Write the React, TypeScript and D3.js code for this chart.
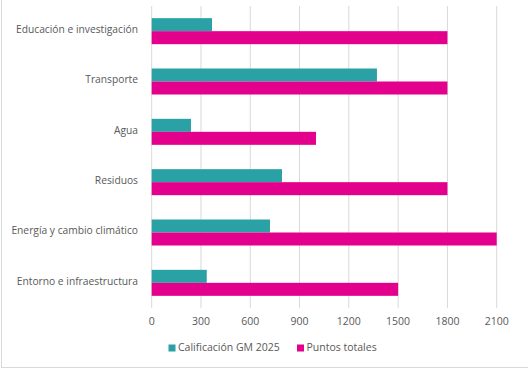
import React, { useEffect, useRef } from 'react';
import * as d3 from 'd3';

const categories = [
  'Educación e investigación',
  'Transporte',
  'Agua',
  'Residuos',
  'Energía y cambio climático',
  'Entorno e infraestructura',
];
const calificacion = [367, 1371, 239, 793, 720, 335];
const puntosTotales = [1800, 1800, 1000, 1800, 2100, 1500];
const xTicks = [0, 300, 600, 900, 1200, 1500, 1800, 2100];
const seriesNames = ['Calificación GM 2025', 'Puntos totales'];
const seriesColors = ['#2AA1A5', '#E3008C'];

const App: React.FC = () => {
  const ref = useRef<SVGSVGElement>(null);

  useEffect(() => {
    if (!ref.current) return;
    const width = 528, height = 370;
    const svg = d3.select(ref.current);
    svg.selectAll('*').remove();
    svg.attr('width', width).attr('height', height);

    const font = "'Open Sans', sans-serif";
    const textColor = '#595959';

    // chart frame (only left and bottom visible in crop)
    svg.append('rect')
      .attr('x', 1.5).attr('y', -10)
      .attr('width', 540).attr('height', 377.5)
      .attr('fill', '#fff').attr('stroke', '#d9d9d9');

    const x = d3.scaleLinear().domain([0, 2100]).range([151.7, 496.7]);
    const y = d3.scaleBand<string>().domain(categories).range([6, 308]);
    const barH = 13;

    svg.append('g')
      .selectAll('line')
      .data(xTicks)
      .join('line')
      .attr('x1', d => x(d)).attr('x2', d => x(d))
      .attr('y1', 6).attr('y2', 308)
      .attr('stroke', '#d9d9d9').attr('stroke-width', 1);

    const series = [calificacion, puntosTotales];
    series.forEach((vals, si) => {
      svg.append('g')
        .selectAll('rect')
        .data(categories)
        .join('rect')
        .attr('x', x(0))
        .attr('y', c => (y(c) as number) + y.step() / 2 - barH + si * barH)
        .attr('width', (c, i) => x(vals[i]) - x(0))
        .attr('height', barH)
        .attr('fill', seriesColors[si]);
    });

    svg.append('g')
      .selectAll('text')
      .data(categories)
      .join('text')
      .attr('x', 138)
      .attr('y', c => (y(c) as number) + y.step() / 2 - 1)
      .attr('text-anchor', 'end')
      .attr('dominant-baseline', 'middle')
      .attr('font-family', font)
      .attr('font-size', 10.25)
      .attr('fill', textColor)
      .text(c => c);

    svg.append('g')
      .selectAll('text')
      .data(xTicks)
      .join('text')
      .attr('x', d => x(d))
      .attr('y', 322)
      .attr('text-anchor', 'middle')
      .attr('dominant-baseline', 'middle')
      .attr('font-family', font)
      .attr('font-size', 10.5)
      .attr('fill', textColor)
      .text(d => String(d));

    const legendX = [168.5, 297];
    const legend = svg.append('g')
      .selectAll('g')
      .data(seriesNames)
      .join('g')
      .attr('transform', (d, i) => `translate(${legendX[i]},348)`);
    legend.append('rect')
      .attr('x', 0).attr('y', -3.5)
      .attr('width', 7).attr('height', 7)
      .attr('fill', (d, i) => seriesColors[i]);
    legend.append('text')
      .attr('x', 9.5).attr('y', 0)
      .attr('dominant-baseline', 'middle')
      .attr('font-family', font)
      .attr('font-size', 10.5)
      .attr('fill', textColor)
      .text(d => d);
  }, []);

  return (
    <svg ref={ref} style={{ position: 'absolute', left: 0, top: 0 }} />
  );
};

export default App;
